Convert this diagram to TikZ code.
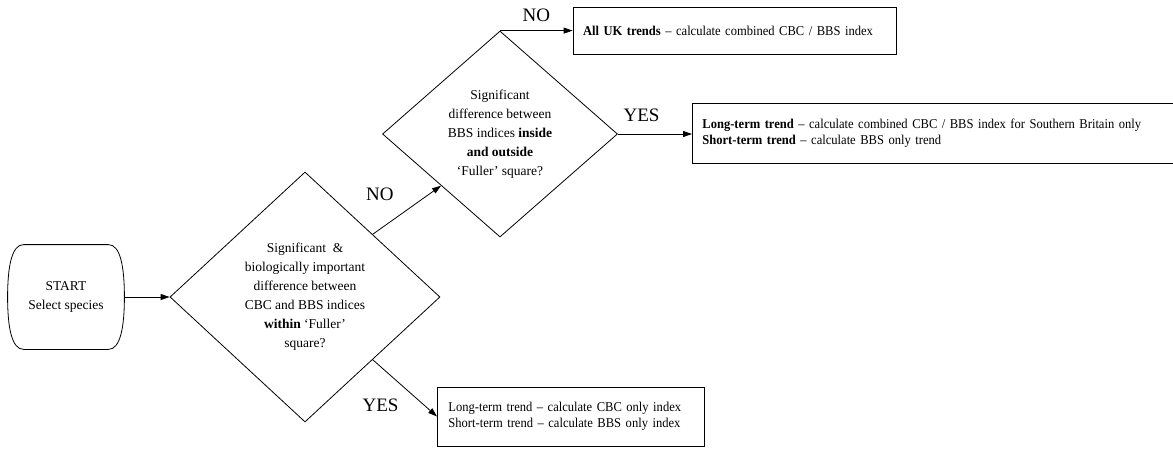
\documentclass[tikz,border=0pt]{standalone}
\usepackage{xcolor}
\usepackage{fontspec}
\setmainfont{Liberation Serif}
\newfontfamily\boxfont[Ligatures=TeX, FakeStretch=0.93, WordSpace=0.8]{Liberation Serif}
\usepackage{tikz}
\usetikzlibrary{shapes.geometric, arrows.meta}

\tikzset{
  decision/.style={diamond, draw, inner sep=0pt, align=center,
                   font=\fontsize{13.5}{19}\selectfont},
  outcome/.style={rectangle, draw, inner ysep=0pt, align=left,
                  font=\boxfont\fontsize{13.5}{16}\selectfont},
  answer/.style={font=\fontsize{19}{19}\selectfont, inner sep=1pt},
  flow/.style={-{Triangle[length=9pt, width=6pt]}}
}

\begin{document}
\begin{tikzpicture}[x=1pt, y=-1pt, line width=0.8pt]
    \useasboundingbox (0,0) rectangle (1173,448);

    \node[minimum width=116pt, minimum height=104pt, align=center,
          font=\fontsize{13.5}{19}\selectfont] (start) at (66,297)
      {START\\Select species};
    \draw ([xshift=16pt]start.north west) -- ([xshift=-16pt]start.north east)
      .. controls +(12pt,0pt) and +(0pt,30pt) .. (start.east)
      .. controls +(0pt,-30pt) and +(12pt,0pt) .. ([xshift=-16pt]start.south east)
      -- ([xshift=16pt]start.south west)
      .. controls +(-12pt,0pt) and +(0pt,-30pt) .. (start.west)
      .. controls +(0pt,30pt) and +(-12pt,0pt) .. cycle;

    \node[decision, minimum width=270pt, minimum height=250pt] (within) at (305,297)
      {Significant~ \&\\biologically important\\difference between\\
       CBC and BBS indices\\\textbf{within} `Fuller'\\square?};
    \node[decision, minimum width=235pt, minimum height=206pt] (inout) at (500,134)
      {Significant\\difference between\\BBS indices \textbf{inside}\\
       \textbf{and outside}\\`Fuller' square?};

    \node[outcome, minimum height=47pt, inner xsep=10pt, text width=303pt]
      (alluk) at (734.5,30.5)
      {\textbf{All UK trends} -- calculate combined CBC / BBS index};
    \node[outcome, minimum height=60pt, inner xsep=10pt, text width=473pt,
          anchor=west] (south) at (692,133)
      {\textbf{Long-term trend} -- calculate combined CBC / BBS index for Southern Britain only\\
       \textbf{Short-term trend} -- calculate BBS only trend};
    \node[outcome, minimum height=59pt, inner xsep=11pt, text width=245pt,
          anchor=west] (cbconly) at (437,416.5)
      {Long-term trend -- calculate CBC only index\\
       Short-term trend -- calculate BBS only index};

    \draw[flow] (start.east) -- (within.west);
    \draw[flow] (within.north east) --
      node[answer, above left, xshift=-12pt, yshift=8pt] {NO} (inout.south west);
    \draw[flow] (within.south east) --
      node[answer, below left, xshift=-5pt, yshift=-9pt] {YES} (cbconly.west);
    \draw[flow] (inout.north) -- node[answer, above=8pt] {NO} (inout.north -| alluk.west);
    \draw[flow] (inout.east) --
      node[answer, above=11pt, pos=0.32] {YES} (inout.east -| south.west);
\end{tikzpicture}
\end{document}
